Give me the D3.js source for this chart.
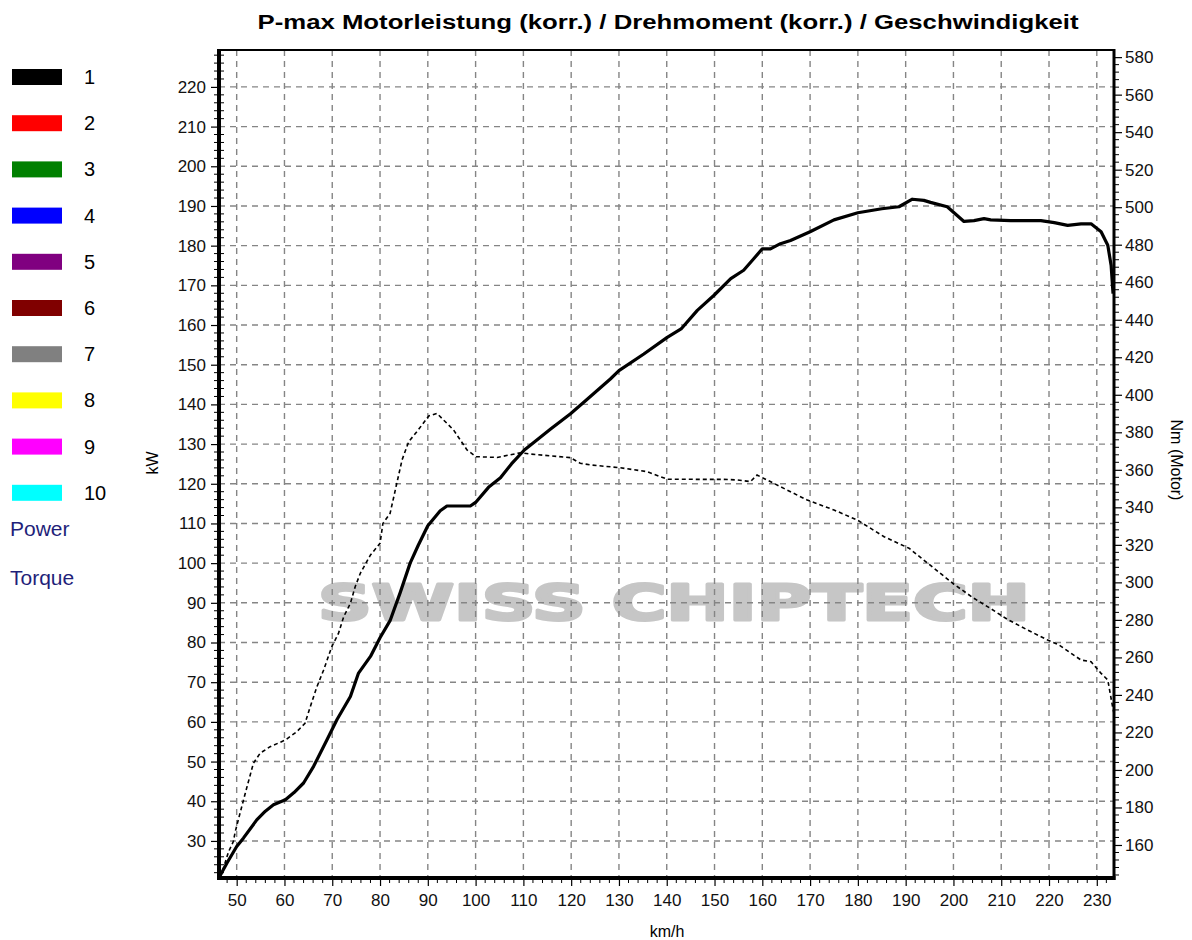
<!DOCTYPE html>
<html>
<head>
<meta charset="utf-8">
<script src="https://cdn.jsdelivr.net/npm/d3@7"></script>
<style>
  html, body { margin: 0; padding: 0; background: #fff; }
  svg { display: block; font-family: "Liberation Sans", Arial, sans-serif; }
</style>
</head>
<body>
<svg id="chart" width="1192" height="940"></svg>
<script>
// ---------- DATA ----------
const title = "P-max Motorleistung (korr.) / Drehmoment (korr.) / Geschwindigkeit";
const legendLabels = ["1", "2", "3", "4", "5", "6", "7", "8", "9", "10"];
const legendColors = ["#000000", "#ff0000", "#008000", "#0000ff", "#800080", "#800000", "#808080", "#ffff00", "#ff00ff", "#00ffff"];
const legendExtra = ["Power", "Torque"];

const speedTicks = [50, 60, 70, 80, 90, 100, 110, 120, 130, 140, 150, 160, 170, 180, 190, 200, 210, 220, 230];
const kwTicks = [30, 40, 50, 60, 70, 80, 90, 100, 110, 120, 130, 140, 150, 160, 170, 180, 190, 200, 210, 220];
const nmTicks = [160, 180, 200, 220, 240, 260, 280, 300, 320, 340, 360, 380, 400, 420, 440, 460, 480, 500, 520, 540, 560, 580];

// Power curve (km/h, kW)
const powerSpeed = [46.4, 48, 50, 51.4, 54.2, 56, 57.7, 60.2, 62, 64, 66.1, 68.9, 71, 73.8, 75.5, 78, 80, 82.1, 84.2, 86.3, 88, 90, 92.6, 94, 98.9, 100, 102.7, 105.2, 107.5, 110.2, 115.7, 119.8, 123, 128.2, 130, 135.2, 140.1, 143, 146.4, 149.9, 153.4, 156.1, 158.2, 160, 161.7, 163.8, 165.9, 170, 175, 180, 185, 188.6, 191.4, 193.8, 195.2, 198.7, 202.2, 204.3, 206.4, 207.8, 212, 218.3, 221.1, 223.9, 226.7, 228.8, 230.9, 232.3, 233.0, 233.4];
const powerKw = [21, 24.5, 28.6, 30.7, 35.3, 37.5, 39.1, 40.4, 42.2, 44.6, 48.8, 55.5, 60.6, 66.4, 72.3, 76.5, 81.2, 85.5, 92.5, 100, 104.5, 109.4, 113.2, 114.4, 114.4, 115.3, 119.1, 121.5, 125, 128.5, 133.8, 137.6, 140.9, 146.4, 148.5, 152.7, 156.9, 159, 163.7, 167.5, 171.7, 173.8, 176.7, 179.2, 179.2, 180.5, 181.3, 183.5, 186.5, 188.3, 189.3, 189.8, 191.7, 191.4, 190.9, 189.8, 186.1, 186.3, 186.8, 186.5, 186.3, 186.3, 185.8, 185.1, 185.5, 185.5, 183.5, 180.1, 175, 167.9];

// Torque curve (km/h, Nm)
const torqueSpeed = [46.5, 46.9, 48.3, 49.3, 49.7, 50.7, 51.8, 53.5, 54.9, 57, 60.2, 62.6, 64.3, 65.4, 66.8, 68.2, 69.9, 71.3, 72.4, 73.8, 74.8, 75.9, 78, 80, 80.6, 82.1, 83.5, 84.6, 86, 87.7, 90.2, 91.9, 95.4, 98.2, 100.1, 104.5, 109.4, 111.5, 119.8, 121.9, 124, 130.3, 135.9, 140.1, 147.8, 151.9, 154.8, 157.5, 158.9, 161, 164.5, 165.9, 169.4, 175, 179.9, 185.5, 190.7, 195.2, 200.1, 204, 207.8, 211.3, 215.5, 219.7, 222.1, 226.7, 228.8, 230.9, 232.3, 233.3, 233.6];
const torqueNm = [143, 145, 156.4, 161.8, 167.1, 176.9, 187.6, 203.6, 208.9, 212.4, 216, 220.4, 224.9, 233.7, 244.4, 253.3, 265.7, 272.8, 281.7, 288.8, 297.7, 305, 314.6, 320.8, 331.4, 336.7, 352.7, 365.2, 375, 380.3, 388.7, 390.1, 381.2, 370.6, 367, 366.6, 369.1, 368.4, 366.5, 363.5, 362.6, 361.1, 359, 355, 354.9, 354.9, 354.6, 353.7, 357.2, 354.6, 350.1, 348.3, 343.9, 338.6, 333.2, 324.3, 318.2, 309, 299, 292, 286, 280.3, 274.6, 269.3, 266.6, 258.6, 257.7, 251.5, 248, 233.7, 230];

// ---------- LAYOUT ----------
const L = 219, R = 1114, T = 50, B = 878;
const svg = d3.select("#chart");

const x = d3.scaleLinear().domain([46.3, 233.6]).range([L, R]);
const yL = d3.scaleLinear().domain([20.66, 229.3]).range([B, T]);
const yR = d3.scaleLinear().domain([142.4, 583.8]).range([B, T]);

// Watermark
svg.append("text")
  .attr("x", 318).attr("y", 620)
  .attr("textLength", 712).attr("lengthAdjust", "spacingAndGlyphs")
  .attr("font-family", "'DejaVu Sans', Verdana, sans-serif")
  .attr("font-weight", "bold")
  .attr("font-size", 50)
  .attr("fill", "#c6c6c6")
  .attr("stroke", "#c6c6c6").attr("stroke-width", 3).attr("stroke-linejoin", "round")
  .text("SWISS CHIPTECH");

// Grid
const grid = svg.append("g").attr("stroke", "#858585").attr("stroke-width", 1.4).attr("stroke-dasharray", "6,5");
grid.selectAll("line.v").data(speedTicks).enter().append("line")
  .attr("x1", d => x(d)).attr("x2", d => x(d)).attr("y1", T).attr("y2", B);
grid.selectAll("line.h").data(kwTicks).enter().append("line")
  .attr("x1", L).attr("x2", R).attr("y1", d => yL(d)).attr("y2", d => yL(d));

// Axes
const fontTick = 17;
const axB = d3.axisBottom(x).tickValues(speedTicks).tickSize(8).tickPadding(8);
const gB = svg.append("g").attr("transform", `translate(0,${B})`).call(axB);
const axL = d3.axisLeft(yL).tickValues(kwTicks).tickSize(8).tickPadding(5);
const gL = svg.append("g").attr("transform", `translate(${L},0)`).call(axL);
const axR = d3.axisRight(yR).tickValues(nmTicks).tickSize(8).tickPadding(3);
const gR = svg.append("g").attr("transform", `translate(${R},0)`).call(axR);
[gB, gL, gR].forEach(g => {
  g.select(".domain").remove();
  g.selectAll("line").attr("stroke", "#000").attr("stroke-width", 1.2);
  g.selectAll("text").attr("font-size", fontTick).attr("fill", "#111")
    .attr("font-family", "'Liberation Sans', Arial, sans-serif");
});

// Minor ticks
const minorX = d3.range(48, 234, 2).filter(v => v % 10 !== 0);
svg.append("g").selectAll("line").data(minorX).enter().append("line")
  .attr("x1", d => x(d)).attr("x2", d => x(d)).attr("y1", B).attr("y2", B + 5)
  .attr("stroke", "#000").attr("stroke-width", 1);
const minorL = d3.range(22, 229, 2).filter(v => v % 10 !== 0);
svg.append("g").selectAll("line").data(minorL).enter().append("line")
  .attr("x1", L - 5).attr("x2", L + 5).attr("y1", d => yL(d)).attr("y2", d => yL(d))
  .attr("stroke", "#000").attr("stroke-width", 1);
const minorR = d3.range(144, 584, 4).filter(v => v % 20 !== 0);
svg.append("g").selectAll("line").data(minorR).enter().append("line")
  .attr("x1", R).attr("x2", R + 5).attr("y1", d => yR(d)).attr("y2", d => yR(d))
  .attr("stroke", "#000").attr("stroke-width", 1);

// Curves
const powerData = powerSpeed.map((s, i) => [s, powerKw[i]]);
const torqueData = torqueSpeed.map((s, i) => [s, torqueNm[i]]);
svg.append("path").datum(torqueData)
  .attr("fill", "none").attr("stroke", "#000").attr("stroke-width", 1.6)
  .attr("stroke-dasharray", "4,3")
  .attr("d", d3.line().x(d => x(d[0])).y(d => yR(d[1])));
svg.append("path").datum(powerData)
  .attr("fill", "none").attr("stroke", "#000").attr("stroke-width", 3.2)
  .attr("stroke-linejoin", "round")
  .attr("d", d3.line().x(d => x(d[0])).y(d => yL(d[1])));

// Frame
svg.append("line").attr("x1", L).attr("x2", R).attr("y1", T).attr("y2", T).attr("stroke", "#000").attr("stroke-width", 2);
svg.append("line").attr("x1", R).attr("x2", R).attr("y1", T - 1).attr("y2", B + 2).attr("stroke", "#000").attr("stroke-width", 3);
svg.append("line").attr("x1", L).attr("x2", L).attr("y1", T - 1).attr("y2", B + 2).attr("stroke", "#000").attr("stroke-width", 4);
svg.append("line").attr("x1", L - 2).attr("x2", R + 1.5).attr("y1", B).attr("y2", B).attr("stroke", "#000").attr("stroke-width", 4);

// Title
svg.append("text").attr("x", 668).attr("y", 29).attr("text-anchor", "middle")
  .attr("font-size", 20).attr("font-weight", "bold").attr("fill", "#000")
  .attr("textLength", 821).attr("lengthAdjust", "spacingAndGlyphs")
  .text(title);

// Axis titles
svg.append("text").attr("transform", "translate(158,463) rotate(-90)").attr("text-anchor", "middle")
  .attr("font-size", 16).attr("fill", "#000").text("kW");
svg.append("text").attr("transform", "translate(1171,460) rotate(90)").attr("text-anchor", "middle")
  .attr("font-size", 16).attr("fill", "#000").text("Nm (Motor)");
svg.append("text").attr("x", 667).attr("y", 937).attr("text-anchor", "middle")
  .attr("font-size", 16).attr("fill", "#000").text("km/h");

// Legend
const lg = svg.append("g");
lg.selectAll("rect").data(legendColors).enter().append("rect")
  .attr("x", 12).attr("y", (d, i) => 69 + i * 46.2).attr("width", 50).attr("height", 16)
  .attr("fill", d => d);
lg.selectAll("text.num").data(legendLabels).enter().append("text")
  .attr("x", 84).attr("y", (d, i) => 84 + i * 46.2)
  .attr("font-size", 20).attr("fill", "#000").text(d => d);
lg.selectAll("text.extra").data(legendExtra).enter().append("text")
  .attr("x", 10).attr("y", (d, i) => 536 + i * 49)
  .attr("font-size", 21).attr("fill", "#1f1f7a").text(d => d);
</script>
</body>
</html>
